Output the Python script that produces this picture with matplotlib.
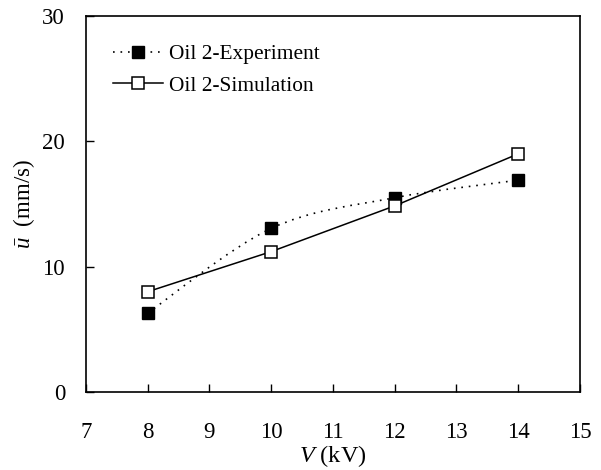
import numpy as np
import matplotlib
matplotlib.use("Agg")
import matplotlib.pyplot as plt
from matplotlib.path import Path
from matplotlib.patches import PathPatch
from matplotlib.lines import Line2D

plt.rcParams['font.family'] = ['Liberation Serif', 'DejaVu Serif']
plt.rcParams['mathtext.fontset'] = 'custom'
plt.rcParams['mathtext.rm'] = 'Liberation Serif'
plt.rcParams['mathtext.it'] = 'Liberation Serif:italic'

voltage = [8, 10, 12, 14]
exp_speed = [6.3, 13.05, 15.5, 16.9]
sim_speed = [8.0, 11.2, 14.85, 19.0]
x_ticks = [7, 8, 9, 10, 11, 12, 13, 14, 15]
y_ticks = [0, 10, 20, 30]
labels = ["Oil 2-Experiment", "Oil 2-Simulation"]

fig = plt.figure(figsize=(6.01, 4.70), dpi=100)
ax = fig.add_axes([0.143, 0.166, 0.822, 0.800])

# Smoothed (Excel-style Bezier) curve for experiment
def smooth_path(xs, ys):
    pts = np.column_stack([xs, ys]).astype(float)
    n = len(pts)
    verts = [pts[0]]
    codes = [Path.MOVETO]
    for i in range(n - 1):
        p0 = pts[i - 1] if i > 0 else pts[i]
        p1 = pts[i]
        p2 = pts[i + 1]
        p3 = pts[i + 2] if i + 2 < n else pts[i + 1]
        c1 = p1 + (p2 - p0) / 6.0
        c2 = p2 - (p3 - p1) / 6.0
        verts += [c1, c2, p2]
        codes += [Path.CURVE4] * 3
    return Path(verts, codes)

dot_style = (0, (1, 3.5))
patch = PathPatch(smooth_path(voltage, exp_speed), facecolor='none',
                  edgecolor='black', lw=1.2, linestyle=dot_style,
                  transform=ax.transData)
ax.add_patch(patch)
ax.plot(voltage, exp_speed, ls='none', marker='s', ms=8, mfc='black',
        mec='black', zorder=3)

ax.plot(voltage, sim_speed, ls='-', color='black', lw=1.1, marker='s',
        ms=8, mfc='white', mec='black', mew=1.1, zorder=3)

h1 = Line2D([], [], color='black', lw=1.2, linestyle=dot_style,
            marker='s', ms=8, mfc='black', mec='black')
h2 = Line2D([], [], color='black', lw=1.1, marker='s', ms=8,
            mfc='white', mec='black', mew=1.1)
ax.legend([h1, h2], labels, loc='upper left', frameon=False, fontsize=15.4,
          handlelength=2.35, handletextpad=0.25, labelspacing=0.54,
          bbox_to_anchor=(0.0547, 0.925), borderaxespad=0, borderpad=0)

ax.set_xlim(7, 15)
ax.set_ylim(0, 30)
ax.set_xticks(x_ticks)
ax.set_yticks(y_ticks)
ax.tick_params(direction='in', length=6, width=1, labelsize=16.5)
ax.tick_params(axis='x', pad=21.5)
ax.tick_params(axis='y', pad=15)
for s in ax.spines.values():
    s.set_linewidth(1.2)

ax.set_xlabel(r"$V$ (kV)", fontsize=17.5, labelpad=0)
ax.set_ylabel(r"$\bar{u}$  (mm/s)", fontsize=16.5, labelpad=4)

fig.savefig("out.png", dpi=100)
